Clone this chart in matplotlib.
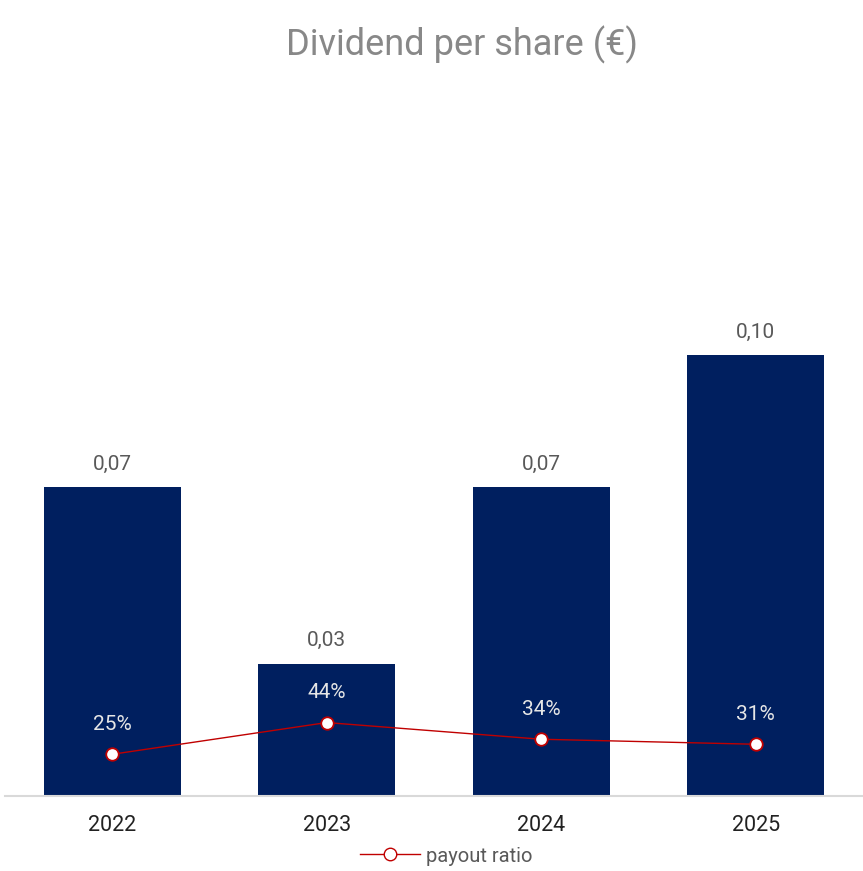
import matplotlib.pyplot as plt
from matplotlib.lines import Line2D

plt.rcParams['font.family'] = ['Roboto', 'DejaVu Sans']

# Datos
anios = ['2022', '2023', '2024', '2025']
dividendo = [0.07, 0.03, 0.07, 0.10]
payout = [25, 44, 34, 31]
etiquetas_div = ['0,07', '0,03', '0,07', '0,10']

fig = plt.figure(figsize=(8.63, 8.71), dpi=100)
ax = fig.add_axes([5 / 863, 1 - 796 / 871, 858 / 863, 696 / 871])

x = list(range(len(anios)))
ax.bar(x, dividendo, width=0.64, color='#001f5f', zorder=2)
ax.set_xlim(-0.5, 3.5)
ax.set_ylim(0, 0.1578)

# Etiquetas de las barras
for xi, v, t in zip(x, dividendo, etiquetas_div):
    ax.annotate(t, xy=(xi, v), xytext=(0, 16.5), textcoords='offset points',
                ha='center', va='center', fontsize=15, color='#595959')

# Eje secundario para el payout
ax2 = ax.twinx()
ax2.set_ylim(0, 417)
ax2.plot(x, payout, color='#c00000', linewidth=1, marker='o', markersize=9,
         markerfacecolor='white', markeredgecolor='#c00000', markeredgewidth=1.3, zorder=3)
for xi, p in zip(x, payout):
    ax2.annotate(f'{p}%', xy=(xi, p), xytext=(0, 21.5), textcoords='offset points',
                 ha='center', va='center', fontsize=15, color='#e6e6e6')

for a in (ax, ax2):
    for s in ['top', 'right', 'left']:
        a.spines[s].set_visible(False)
    a.set_yticks([])
ax.spines['bottom'].set_color('#d9d9d9')
ax.spines['bottom'].set_linewidth(1.5)
ax2.spines['bottom'].set_visible(False)

ax.set_xticks(x)
ax.set_xticklabels(anios, fontsize=15.5, color='#222222')
ax.tick_params(axis='x', length=0, pad=13.5)

fig.text(0.535, 1 - 45 / 871, 'Dividend per share (€)', ha='center', va='center',
         fontsize=26, color='#888888')

handle = Line2D([], [], color='#c00000', linewidth=1, marker='o', markersize=9,
                markerfacecolor='white', markeredgecolor='#c00000')
fig.legend([handle], ['payout ratio'], loc='center', bbox_to_anchor=(0.517, 1 - 856 / 871),
           frameon=False, fontsize=14.5, labelcolor='#595959', handlelength=3, handletextpad=0.3)

plt.savefig('out.png', dpi=100)
